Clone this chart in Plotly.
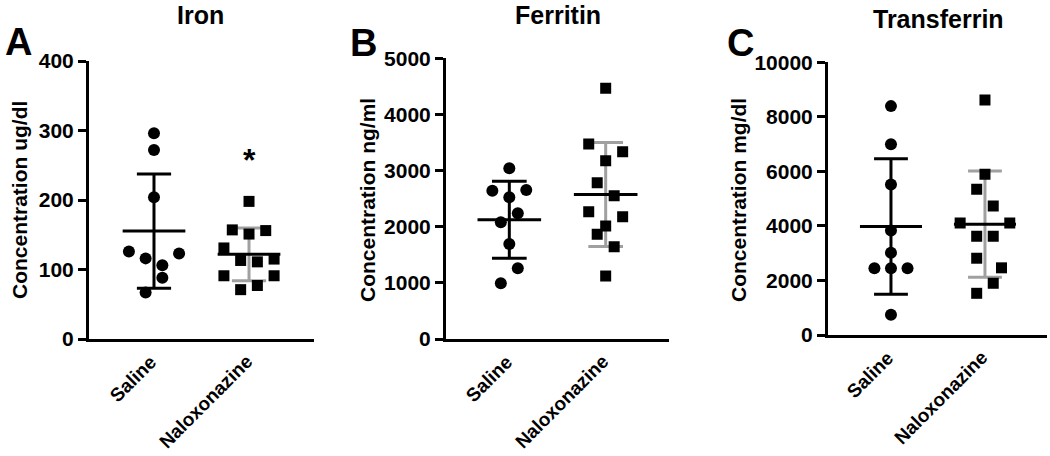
import numpy as np
import plotly.graph_objects as go

# group labels
groups = ["Saline", "Naloxonazine"]

# values
iron_saline = [296, 272, 204, 126, 116, 123, 106, 88, 67]
iron_nalox = [198, 157, 151, 156, 131, 113, 111, 115, 91, 91, 71, 77]
ferritin_saline = [3040, 2642, 2654, 2524, 2239, 2078, 1692, 1259, 992]
ferritin_nalox = [4466, 3474, 3337, 3177, 2785, 2553, 2268, 2179, 2013, 1865, 1645, 1122]
transferrin_saline = [8393, 6996, 5515, 3835, 3015, 2449, 2449, 2449, 746]
transferrin_nalox = [8614, 5893, 5342, 4728, 4103, 4103, 3625, 3625, 2816, 2463, 1897, 1529]

# scatter slots (beeswarm spread of the dots)
iron_saline_slot = [0, 0, 0, -3, -1, 3, 1, 1, -1]
iron_nalox_slot = [0, -2, 0, 2, -3, -1, 1, 3, -3, 3, -1, 1]
ferritin_saline_slot = [0, -2, 2, 0, 1, -1, 0, 1, -1]
ferritin_nalox_slot = [0, -2, 2, 0, -1, 1, -2, 2, 0, -1, 1, 0]
transferrin_saline_slot = [0, 0, 0, 0, 0, -2, 0, 2, 0]
transferrin_nalox_slot = [0, 0, -1, 1, -3, 3, -1, 1, -1, 2, 1, -1]

FONT = "Liberation Sans, Arial, sans-serif"
GRAY = "#a0a0a0"
SLOT = 0.088
W, H = 1050, 456

panels = [
    dict(title="Iron", letter="A", ytitle="Concentration ug/dl", yrange=[0, 400], dtick=100,
         data=[(iron_saline, iron_saline_slot), (iron_nalox, iron_nalox_slot)],
         xdom=[89, 314], ydom=[339, 61], xr=[-0.684, 1.684],
         tx=200, ty=15, lx=18, ly=42, yx=19, labx=[162, 258]),
    dict(title="Ferritin", letter="B", ytitle="Concentration ng/ml", yrange=[0, 5000], dtick=1000,
         data=[(ferritin_saline, ferritin_saline_slot), (ferritin_nalox, ferritin_nalox_slot)],
         xdom=[446, 669], ydom=[339, 58.3], xr=[-0.657, 1.657],
         tx=558, ty=15, lx=363, ly=43, yx=367, labx=[518, 614]),
    dict(title="Transferrin", letter="C", ytitle="Concentration mg/dl", yrange=[0, 10000], dtick=2000,
         data=[(transferrin_saline, transferrin_saline_slot), (transferrin_nalox, transferrin_nalox_slot)],
         xdom=[828, 1047], ydom=[335, 62.3], xr=[-0.67, 1.66],
         tx=938, ty=19, lx=740, ly=43, yx=738, labx=[899, 993]),
]

fig = go.Figure()
annotations = []

for i, p in enumerate(panels):
    n = "" if i == 0 else str(i + 1)
    xa, ya = "x" + n, "y" + n
    for g, (vals, slots) in enumerate(p["data"]):
        vals = np.array(vals, dtype=float)
        m, sd = vals.mean(), vals.std(ddof=1)
        sd_color = "black" if g == 0 else GRAY
        # SD whisker + caps
        fig.add_trace(go.Scatter(
            x=[g, g, None, g - 0.18, g + 0.18, None, g - 0.18, g + 0.18],
            y=[m - sd, m + sd, None, m + sd, m + sd, None, m - sd, m - sd],
            mode="lines", line=dict(color=sd_color, width=3),
            xaxis=xa, yaxis=ya, showlegend=False, hoverinfo="skip"))
        # mean line
        fig.add_trace(go.Scatter(
            x=[g - 0.33, g + 0.33], y=[m, m], mode="lines",
            line=dict(color="black", width=3),
            xaxis=xa, yaxis=ya, showlegend=False, hoverinfo="skip"))
        fig.add_trace(go.Scatter(
            x=[g + s * SLOT for s in slots], y=vals, mode="markers",
            marker=dict(symbol="circle" if g == 0 else "square", size=12 if g == 0 else 11,
                        color="black", line=dict(width=0)),
            xaxis=xa, yaxis=ya, showlegend=False, name=groups[g]))

    axis_x = dict(domain=[p["xdom"][0] / W, p["xdom"][1] / W], range=p["xr"],
                  showline=True, linecolor="black", linewidth=3,
                  showgrid=False, zeroline=False, ticks="", showticklabels=False,
                  anchor=ya, fixedrange=True, automargin=False)
    axis_y = dict(domain=[1 - p["ydom"][0] / H, 1 - p["ydom"][1] / H], range=p["yrange"],
                  dtick=p["dtick"], tickformat="d",
                  showline=True, linecolor="black", linewidth=3, showgrid=False, zeroline=False,
                  ticks="outside", ticklen=8, tickwidth=3, tickcolor="black",
                  tickfont=dict(family=FONT, size=21, color="black", weight="bold"),
                  anchor=xa, fixedrange=True, automargin=False)
    fig.update_layout(**{"xaxis" + n: axis_x, "yaxis" + n: axis_y})

    annotations += [
        dict(text=p["title"], x=p["tx"] / W, y=1 - p["ty"] / H, xref="paper", yref="paper",
             showarrow=False, xanchor="center", yanchor="middle",
             font=dict(family=FONT, size=25, color="black", weight="bold")),
        dict(text=p["letter"], x=p["lx"] / W, y=1 - p["ly"] / H, xref="paper", yref="paper",
             showarrow=False, xanchor="center", yanchor="middle",
             font=dict(family=FONT, size=38, color="black", weight="bold")),
        dict(text=p["ytitle"], x=p["yx"] / W, y=1 - 200 / H, xref="paper", yref="paper",
             showarrow=False, xanchor="center", yanchor="middle", textangle=-90,
             font=dict(family=FONT, size=21, color="black", weight="bold")),
    ]
    # rotated group labels under each column
    for g, name in enumerate(groups):
        annotations.append(dict(
            text=name, x=p["labx"][g] / W, y=1 - (p["ydom"][0] + 11) / H,
            xref="paper", yref="paper", showarrow=False, xanchor="right", yanchor="top",
            textangle=-45, borderpad=0,
            font=dict(family=FONT, size=19, color="black", weight="bold")))

# significance mark above Naloxonazine iron
annotations.append(dict(text="*", x=1, y=258, xref="x", yref="y", showarrow=False,
                        yanchor="middle", font=dict(family=FONT, size=32, color="black", weight="bold")))

fig.update_layout(
    width=W, height=H, margin=dict(l=0, r=0, t=0, b=0, pad=0, autoexpand=False),
    plot_bgcolor="white", paper_bgcolor="white",
    annotations=annotations, showlegend=False,
)

fig.write_html("out.html", config={"displayModeBar": False},
               post_script="document.body.style.margin='0';")
